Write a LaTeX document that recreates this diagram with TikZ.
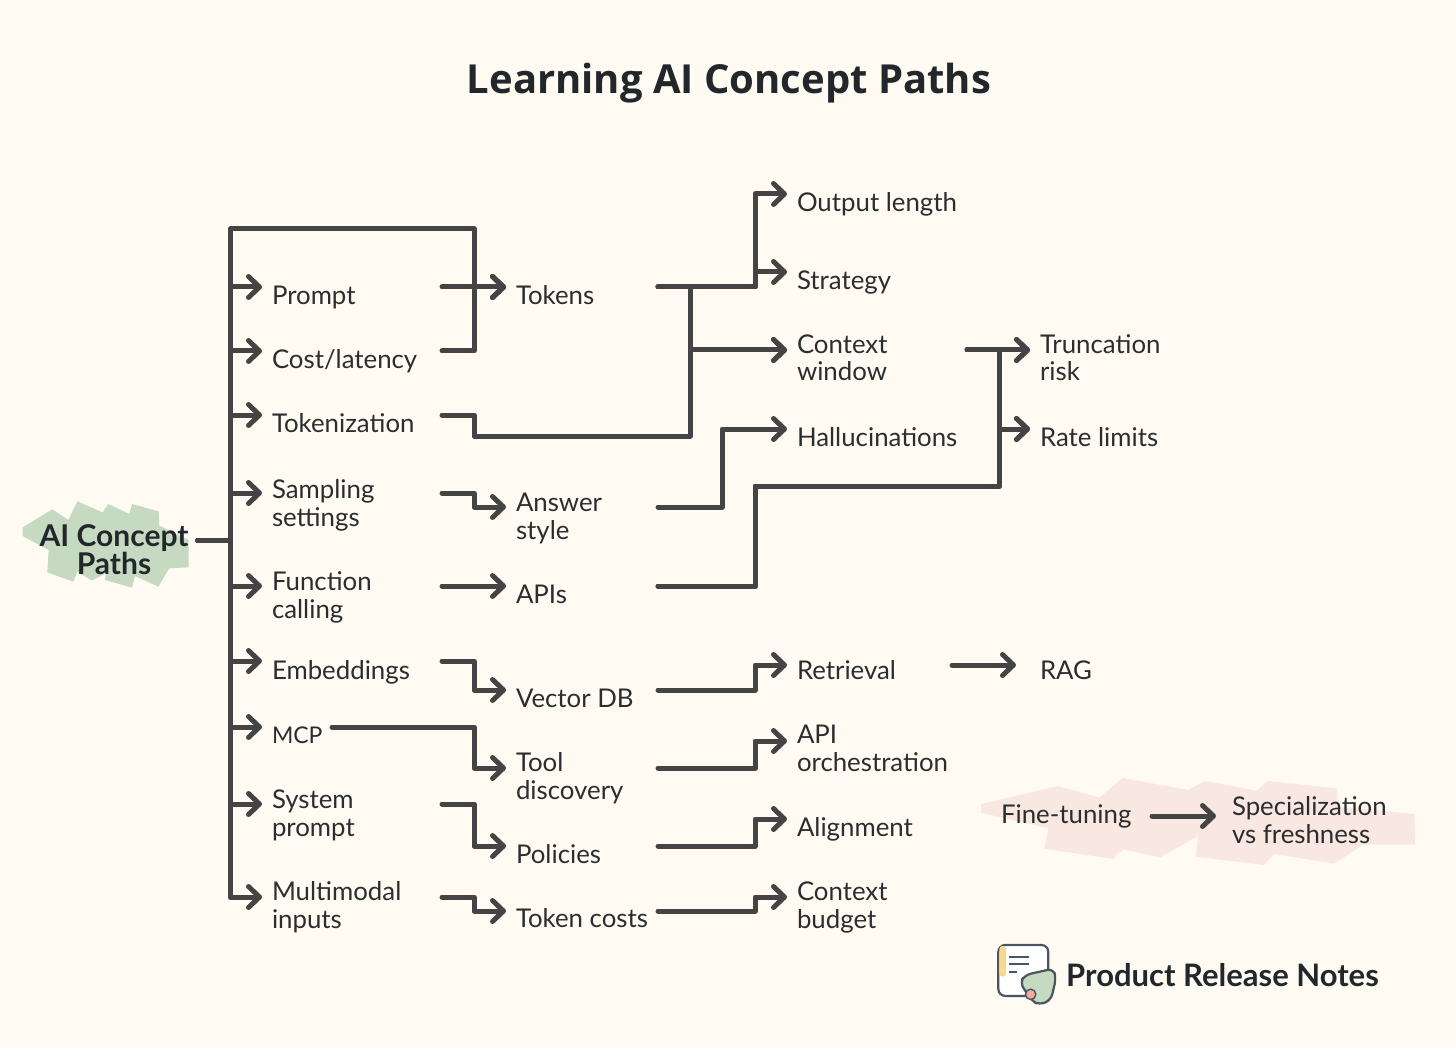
\documentclass[tikz,border=0pt]{standalone}
\usepackage{fontspec}
\setmainfont{Lato}
\newfontfamily\titlefont{Open Sans}
\newfontfamily\brandfont{Lato}
\usetikzlibrary{arrows.meta}
\definecolor{paper}{HTML}{FFFBF3}
\definecolor{ink}{HTML}{444444}
\definecolor{txt}{HTML}{2B2D2F}
\definecolor{dark}{HTML}{22272B}
\definecolor{rootfill}{HTML}{C6DAC1}
\definecolor{pinkfill}{HTML}{F9E8E1}
\definecolor{logoline}{HTML}{4A5560}
\definecolor{logoyellow}{HTML}{F6D98F}
\definecolor{logopink}{HTML}{F2AB9B}
\tikzset{
  conn/.style={draw=ink,line width=5pt,line cap=round,line join=round},
  arr/.style={conn,-{Straight Barb[length=11pt,width=21pt,line width=5pt,round]}},
  lab/.style={anchor=west,inner sep=0pt,outer sep=0pt,text=txt,font=\fontsize{25.8}{27.5}\selectfont},
  rootlab/.style={anchor=west,inner sep=0pt,outer sep=0pt,text=dark,font=\fontsize{30}{28}\selectfont\bfseries},
}
% label box: width W, left pad, first baseline dy below the connector level
\newcommand\labA[4][10]{\hbox to #2pt{\hskip#1pt\smash{\lower\dimexpr#3pt+1.5pt\relax\hbox{#4}}\hss}}
\newcommand\labB[5][10]{\hbox to #2pt{\hskip#1pt\smash{\lower\dimexpr#3pt+1.5pt\relax\vtop{\baselineskip=27.5pt\hbox{#4}\hbox{#5}}}\hss}}
\newcommand\trunkto[1]{\draw[arr] (root.east) -- (230,0 |- root.east) -- (230,0 |- #1.west) -- (#1.west);}
\newcommand\elbowto[3]{\draw[arr] (#1.east) -- (#3,0 |- #1.east) -- (#3,0 |- #2.west) -- (#2.west);}
\begin{document}
\begin{tikzpicture}[x=1pt,y=-1pt]
\useasboundingbox (0,0) rectangle (1456,1048);
\fill[paper] (0,0) rectangle (1456,1048);

% blobs
\fill[rootfill,shift={(0,460)},x=0.3333pt,y=-0.3333pt]
 (68,202)--(157,148)--(205,180)--(232,124)--(308,157)--(325,132)--(388,162)--(396,132)--(476,154)--(478,197)--(566,240)--(566,322)--(508,325)--(475,380)--(405,348)--(396,383)--(315,360)--(318,340)--(275,362)--(232,335)--(220,365)--(142,337)--(146,270)--(68,228)--cycle;
\fill[pinkfill,shift={(970,760)},x=0.3333pt,y=-0.3333pt]
 (33,132)--(265,78)--(388,113)--(458,54)--(655,90)--(705,63)--(860,92)--(893,63)--(1100,85)--(1102,140)--(1333,162)--(1335,254)--(1180,254)--(1092,311)--(912,282)--(882,315)--(677,290)--(685,228)--(570,292)--(458,268)--(430,297)--(223,266)--(235,205)--(33,158)--cycle;

% title
\node[inner sep=0pt,text=dark,font=\fontsize{40}{44}\selectfont\titlefont\bfseries] (title) at (729,83) {Learning AI Concept Paths};

% root
\node[rootlab] (root) at (30,540) {\hbox to 168pt{\hfil\smash{\lower6.5pt\vtop{\baselineskip=28pt\hbox to 168pt{\hss AI Concept\hss}\hbox to 168pt{\hss Paths\hss}}}\hfil}};

% column 1
\node[lab] (prompt) at (262,287) {\labA{180}{16}{Prompt}};
\node[lab] (cost) at (262,351) {\labA{180}{16}{Cost/latency}};
\node[lab] (tokenization) at (262,415) {\labA{180}{16}{Tokenization}};
\node[lab] (sampling) at (262,493) {\labB{180}{4}{Sampling}{settings}};
\node[lab] (function) at (262,586) {\labB{180}{3}{Function}{calling}};
\node[lab] (embeddings) at (262,661) {\labA{180}{17}{Embeddings}};
\node[lab] (mcp) at (262,727) {\labA{70}{15}{\fontsize{23}{27}\selectfont MCP}};
\node[lab] (system) at (262,804) {\labB{180}{3}{System}{prompt}};
\node[lab] (multimodal) at (262,897) {\labB{180}{2}{Multimodal}{inputs}};

% column 2
\node[lab] (tokens) at (506,287) {\labA{152}{16}{Tokens}};
\node[lab] (answer) at (506,507) {\labB{152}{3}{Answer}{style}};
\node[lab] (apis) at (506,586) {\labA{152}{16}{APIs}};
\node[lab] (vectordb) at (506,690) {\labA{152}{16}{Vector DB}};
\node[lab] (tool) at (506,768) {\labB{152}{2}{Tool}{discovery}};
\node[lab] (policies) at (506,846) {\labA{152}{16}{Policies}};
\node[lab] (tokencosts) at (506,911) {\labA{152}{15}{Token costs}};

% column 3
\node[lab] (output) at (787,194) {\labA{170}{16}{Output length}};
\node[lab] (strategy) at (787,272) {\labA{170}{16}{Strategy}};
\node[lab] (context) at (787,350) {\labB{180}{2}{Context}{window}};
\node[lab] (halluc) at (787,429) {\labA{178}{16}{Hallucinations}};
\node[lab] (retrieval) at (787,665) {\labA{165}{13}{Retrieval}};
\node[lab] (orch) at (787,741) {\labB{170}{1}{API}{orchestration}};
\node[lab] (alignment) at (787,819) {\labA{170}{16}{Alignment}};
\node[lab] (budget) at (787,897) {\labB{170}{2}{Context}{budget}};

% column 4
\node[lab] (trunc) at (1030,350) {\labB{140}{2}{Truncation}{risk}};
\node[lab] (rate) at (1030,429) {\labA{140}{16}{Rate limits}};
\node[lab] (rag) at (1016,665) {\labA[24]{80}{13}{RAG}};
\node[lab] (fine) at (991,816) {\labA{161}{6}{Fine-tuning}};
\node[lab] (special) at (1216,816) {\labB[16]{180}{-2}{Specialization}{vs freshness}};

% trunk
\draw[conn] (root.east) -- (230,0 |- root.east);
\foreach \n in {prompt,cost,tokenization,sampling,function,embeddings,mcp,system,multimodal}{\trunkto{\n}}
\draw[arr] (root.east) -- (230,0 |- root.east) -- (230,229) -- (474,229) -- (474,0 |- tokens.west) -- (tokens.west);

% column 1 to 2
\draw[arr] (prompt.east) -- (tokens.west);
\elbowto{cost}{tokens}{474}
\draw[arr] (tokenization.east) -- (474,0 |- tokenization.east) -- (474,436) -- (690,436) -- (690,0 |- context.west) -- (context.west);
\elbowto{sampling}{answer}{474}
\draw[arr] (function.east) -- (apis.west);
\elbowto{embeddings}{vectordb}{474}
\elbowto{mcp}{tool}{474}
\elbowto{system}{policies}{474}
\elbowto{multimodal}{tokencosts}{474}

% column 2 to 3
\elbowto{tokens}{output}{755}
\elbowto{tokens}{strategy}{755}
\elbowto{tokens}{context}{690}
\elbowto{answer}{halluc}{722}
\elbowto{vectordb}{retrieval}{755}
\elbowto{tool}{orch}{755}
\elbowto{policies}{alignment}{755}
\elbowto{tokencosts}{budget}{755}

% column 3 to 4
\elbowto{context}{trunc}{999}
\elbowto{context}{rate}{999}
\draw[arr] (apis.east) -- (755,0 |- apis.east) -- (755,486) -- (999,486) -- (999,0 |- trunc.west) -- (trunc.west);
\draw[arr] (apis.east) -- (755,0 |- apis.east) -- (755,486) -- (999,486) -- (999,0 |- rate.west) -- (rate.west);
\draw[arr] (retrieval.east) -- (rag.west);
\draw[arr] (fine.east) -- (special.west);

% logo
\begin{scope}[shift={(970,760)},x=0.3333pt,y=-0.3333pt]
\filldraw[fill=white,draw=logoline,line width=2.2pt,rounded corners=7pt] (85,555) rectangle (235,708);
\fill[logoyellow,rounded corners=3pt] (88,558) rectangle (108,650);
\draw[logoline,line width=1.8pt] (118,590) -- (178,590) (118,612) -- (178,612) (118,635) -- (142,635);
\filldraw[fill=rootfill,draw=logoline,line width=2.2pt,rounded corners=6pt] (150,668) -- (165,645) -- (250,626) -- (258,655) -- (243,720) -- (208,735) -- (185,722) -- cycle;
\filldraw[fill=logopink,draw=logoline,line width=1.4pt] (182,703) circle (5.2pt);
\end{scope}
\node[anchor=west,inner sep=0pt,text=dark,font=\fontsize{31}{34}\selectfont\brandfont\bfseries] (brand) at (1066,975) {Product Release Notes};
\end{tikzpicture}
\end{document}
